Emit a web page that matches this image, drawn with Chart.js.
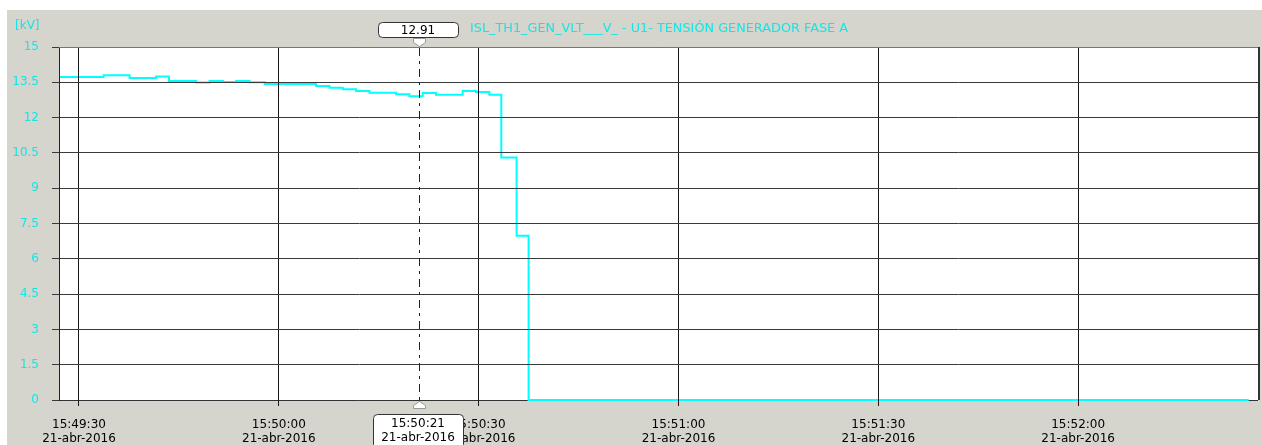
<!DOCTYPE html>
<html>
<head>
<meta charset="utf-8">
<script src="https://cdn.jsdelivr.net/npm/chart.js@4.4.1/dist/chart.umd.min.js"></script>
<style>
  html, body { margin: 0; padding: 0; background: #fff; }
  canvas { display: block; }
</style>
</head>
<body>
<canvas id="myChart" width="1262" height="445"></canvas>
<script>
// sampled values (step line, held until next sample)
const sampleTimes = [
  "15:49:27.0", "15:49:33.7", "15:49:37.6", "15:49:41.6", "15:49:43.5",
  "15:49:47.6", "15:49:49.6", "15:49:51.6", "15:49:53.6", "15:49:55.6",
  "15:49:57.9", "15:50:05.6", "15:50:07.6", "15:50:09.6", "15:50:11.6",
  "15:50:13.6", "15:50:17.6", "15:50:19.6", "15:50:21.6", "15:50:23.6",
  "15:50:27.6", "15:50:29.6", "15:50:31.6", "15:50:33.4", "15:50:35.7",
  "15:50:37.5", "15:52:25.6"
];
const voltageKV = [
  13.73, 13.80, 13.68, 13.75, 13.56,
  13.49, 13.55, 13.51, 13.56, 13.50,
  13.43, 13.34, 13.27, 13.20, 13.13,
  13.06, 12.99, 12.91, 13.05, 12.97,
  13.13, 13.09, 12.97, 10.30, 6.98,
  0, 0
];
const xTickTimes = ["15:49:30", "15:50:00", "15:50:30", "15:51:00", "15:51:30", "15:52:00"];
const dateLabel = "21-abr-2016";
const axisStart = "15:49:27";
const axisEnd = "15:52:27";
const unitLabel = "[kV]";
const seriesName = "ISL_TH1_GEN_VLT___V_ - U1- TENSIÓN GENERADOR FASE A";
const cursorTime = "15:50:21";
const cursorValue = "12.91";

const CYAN = "#00ffff";
const LABEL_CYAN = "#12e6e6";
const PANEL = "#d5d4cd";
const HGRID = "#3a3a3a";

function toSec(t) {
  var p = t.split(":");
  return Number(p[0]) * 3600 + Number(p[1]) * 60 + Number(p[2]);
}
function fmtTime(s) {
  var h = Math.floor(s / 3600), m = Math.floor((s % 3600) / 60), sec = Math.round(s % 60);
  return [h, m, sec].map(function (n) { return String(n).padStart(2, "0"); }).join(":");
}

var points = [];
for (let i = 0; i < sampleTimes.length; i++) {
  points.push({ x: toSec(sampleTimes[i]), y: voltageKV[i] });
}

function roundRect(ctx, x, y, w, h, r) {
  ctx.beginPath();
  ctx.moveTo(x + r, y);
  ctx.arcTo(x + w, y, x + w, y + h, r);
  ctx.arcTo(x + w, y + h, x, y + h, r);
  ctx.arcTo(x, y + h, x, y, r);
  ctx.arcTo(x, y, x + w, y, r);
  ctx.closePath();
}

const decor = {
  id: "decor",
  beforeDraw(chart) {
    const ctx = chart.ctx, a = chart.chartArea;
    ctx.save();
    ctx.fillStyle = "#ffffff";
    ctx.fillRect(0, 0, chart.width, chart.height);
    ctx.fillStyle = PANEL;
    ctx.fillRect(7, 10, chart.width - 7, chart.height - 10);
    ctx.fillStyle = "#ffffff";
    ctx.fillRect(a.left, a.top, a.right - a.left, a.bottom - a.top);
    // bottom edge sits under the trace
    ctx.strokeStyle = "#333";
    ctx.lineWidth = 1;
    ctx.beginPath();
    ctx.moveTo(a.left, a.bottom + 0.5);
    ctx.lineTo(a.right, a.bottom + 0.5);
    ctx.stroke();
    ctx.restore();
  },
  afterDraw(chart) {
    const ctx = chart.ctx, a = chart.chartArea;
    const xs = chart.scales.x;
    ctx.save();
    // frame top / right
    ctx.strokeStyle = "#777";
    ctx.lineWidth = 1;
    ctx.beginPath();
    ctx.moveTo(a.left, a.top + 0.5);
    ctx.lineTo(a.right, a.top + 0.5);
    ctx.stroke();
    ctx.strokeStyle = "#333";
    ctx.lineWidth = 2;
    ctx.beginPath();
    ctx.moveTo(a.right + 1, a.top);
    ctx.lineTo(a.right + 1, a.bottom);
    ctx.stroke();

    // unit + series name
    ctx.font = "12px 'DejaVu Sans'";
    ctx.fillStyle = LABEL_CYAN;
    ctx.textBaseline = "alphabetic";
    ctx.textAlign = "left";
    ctx.fillText(unitLabel, 15, 29);
    ctx.font = "13px 'DejaVu Sans'";
    ctx.fillText(seriesName, 470, 32, 378);

    // cursor
    const cx = Math.round(xs.getPixelForValue(toSec(cursorTime)));
    ctx.strokeStyle = "#222";
    ctx.lineWidth = 1;
    ctx.setLineDash([8, 5, 3, 5]);
    ctx.beginPath();
    ctx.moveTo(cx + 0.5, a.top + 1);
    ctx.lineTo(cx + 0.5, a.bottom);
    ctx.stroke();
    ctx.setLineDash([]);

    // top marker
    ctx.fillStyle = "#fff";
    ctx.strokeStyle = "#999";
    ctx.beginPath();
    ctx.moveTo(cx - 5.5, 38.5);
    ctx.lineTo(cx + 6.5, 38.5);
    ctx.lineTo(cx + 6.5, 42.5);
    ctx.lineTo(cx + 0.5, 46.5);
    ctx.lineTo(cx - 5.5, 42.5);
    ctx.closePath();
    ctx.fill();
    ctx.stroke();
    // bottom marker
    ctx.beginPath();
    ctx.moveTo(cx + 0.5, a.bottom + 1.5);
    ctx.lineTo(cx + 6.5, a.bottom + 5.5);
    ctx.lineTo(cx + 6.5, a.bottom + 8.5);
    ctx.lineTo(cx - 5.5, a.bottom + 8.5);
    ctx.lineTo(cx - 5.5, a.bottom + 5.5);
    ctx.closePath();
    ctx.fill();
    ctx.stroke();

    // value box
    ctx.font = "12px 'DejaVu Sans'";
    ctx.strokeStyle = "#333";
    roundRect(ctx, cx - 40.5, 22.5, 80, 15, 4);
    ctx.fillStyle = "#fff";
    ctx.fill();
    ctx.stroke();
    ctx.fillStyle = "#000";
    ctx.textAlign = "center";
    ctx.textBaseline = "middle";
    ctx.fillText(cursorValue, cx - 1, 30.5);

    // time box
    roundRect(ctx, cx - 45.5, 414.5, 90, 34, 4);
    ctx.fillStyle = "#fff";
    ctx.fill();
    ctx.stroke();
    ctx.fillStyle = "#000";
    ctx.fillText(cursorTime, cx - 1, 424);
    ctx.fillText(dateLabel, cx - 1, 438);
    ctx.restore();
  }
};

Chart.defaults.font.family = "'DejaVu Sans'";
Chart.defaults.font.size = 12;

const ctx = document.getElementById("myChart");
new Chart(ctx, {
  type: "line",
  data: {
    datasets: [
      {
        label: seriesName,
        data: points,
        borderColor: CYAN,
        borderWidth: 2,
        pointRadius: 0,
        stepped: "before",
        fill: false,
        clip: 2,
      },
    ],
  },
  options: {
    responsive: false,
    animation: false,
    devicePixelRatio: 1,
    layout: { padding: { left: 7, top: 47, right: 4, bottom: 0 } },
    plugins: { legend: { display: false }, tooltip: { enabled: false } },
    scales: {
      x: {
        type: "linear",
        min: toSec(axisStart),
        max: toSec(axisEnd),
        afterBuildTicks: function (scale) {
          scale.ticks = xTickTimes.map(function (t) { return { value: toSec(t) }; });
        },
        afterFit: function (scale) { scale.height = 45; },
        // grid above the trace, like the original
        grid: { color: "#1a1a1a", lineWidth: 1, tickLength: 6, z: 1 },
        border: { display: false },
        ticks: {
          color: "#000",
          padding: 12,
          maxRotation: 0,
          autoSkip: false,
          font: { size: 12, lineHeight: 1.17 },
          callback: function (v) { return [fmtTime(v), dateLabel]; },
        },
      },
      y: {
        min: 0,
        max: 15,
        afterFit: function (scale) { scale.width = 52; },
        grid: {
          color: function (c) { return c.tick && c.tick.value === 0 ? "rgba(0,0,0,0)" : HGRID; },
          tickColor: HGRID,
          lineWidth: 1,
          tickLength: 7,
          z: 1,
        },
        border: { color: "#222", width: 1, z: 1 },
        ticks: {
          stepSize: 1.5,
          color: LABEL_CYAN,
          padding: 13,
          font: { size: 12 },
          callback: function (v) { return String(v); },
        },
      },
    },
  },
  plugins: [decor],
});
</script>
</body>
</html>
